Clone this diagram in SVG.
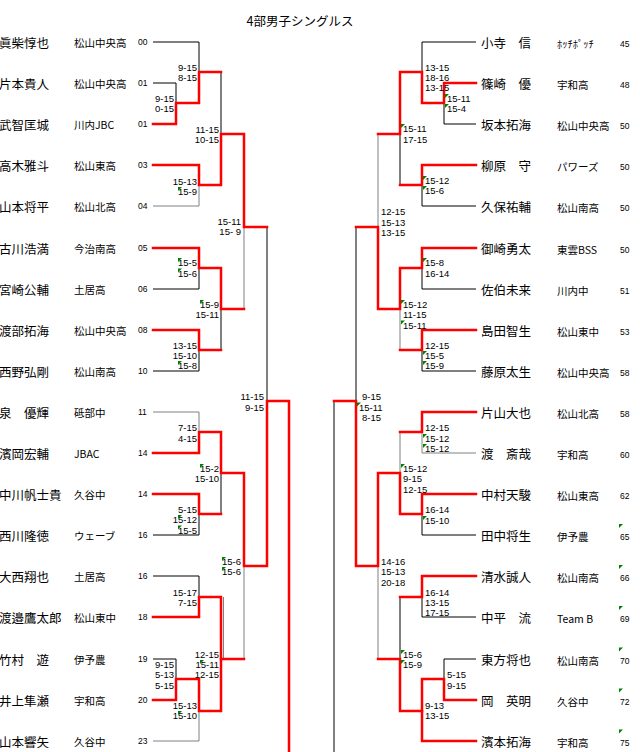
<svg xmlns="http://www.w3.org/2000/svg" width="640" height="752" viewBox="0 0 640 752">
<style>
.k{fill:none;stroke:#000;stroke-width:1}
.g{fill:none;stroke:#808080;stroke-width:1}
.r{fill:none;stroke:#ff0000;stroke-width:2.5;stroke-linejoin:miter;stroke-linecap:square}
text{fill:#000}
.ttl{font-family:"Noto Sans CJK JP",sans-serif;font-size:12.5px}
.nm{font-family:"Noto Sans CJK JP",sans-serif;font-size:12.5px}
.tm{font-family:"Noto Sans CJK JP",sans-serif;font-size:10.5px}
.no{font-family:"Liberation Sans",Arial,sans-serif;font-size:8.5px}
.sc{font-family:"Liberation Sans",Arial,sans-serif;font-size:9.5px;white-space:pre}
.e{text-anchor:end}
.fl{fill:#008000}
</style>
<defs>
<polygon id="f" points="0,0 4,0 0,4"/>
</defs>
<rect width="640" height="752" fill="#fff"/>
<text class="ttl" x="246.5" y="26">4部男子シングルス</text>

<g id="connectors">
<!-- left black -->
<path class="k" d="M153,42H199V72"/>
<path class="k" d="M153,83H176V103"/>
<path class="g" d="M153,206H199V185"/>
<path class="k" d="M221,72V134"/>
<path class="k" d="M153,289H199V268"/>
<path class="k" d="M153,371H199V350"/>
<path class="k" d="M221,309V350"/>
<path class="g" d="M244,227V309"/>
<path class="k" d="M267,227V401"/>
<path class="g" d="M153,412H199V432"/>
<path class="k" d="M153,535H199V514"/>
<path class="k" d="M221,473V514"/>
<path class="k" d="M153,576H199V597"/>
<path class="k" d="M153,659H176V679"/>
<path class="g" d="M153,741H199V711"/>
<path class="g" d="M223.5,597V659"/>
<path class="g" d="M244,566V659"/>
<!-- left red -->
<path class="r" d="M153,124H176V103H199V72H221"/>
<path class="r" d="M153,165H199V185H221V134H244V227H267"/>
<path class="r" d="M153,248H199V268H221V309H244"/>
<path class="r" d="M153,330H199V350H221"/>
<path class="r" d="M153,453H199V432H221V473H244V566H267V401H289V760"/>
<path class="r" d="M153,494H199V514H221"/>
<path class="r" d="M153,617H199V597H221V659"/>
<path class="r" d="M153,700H176V679H199V711H221V659H244"/>
<!-- right black -->
<path class="k" d="M476,42H422V72"/>
<path class="k" d="M476,124H444V103"/>
<path class="k" d="M476,206H422V185"/>
<path class="k" d="M400,134V185"/>
<path class="g" d="M378,134V227"/>
<path class="k" d="M356,227V401"/>
<path class="k" d="M476,289H422V268"/>
<path class="k" d="M476,371H422V350"/>
<path class="g" d="M400,309V350"/>
<path class="g" d="M476,453H422V432"/>
<path class="g" d="M400,432V473"/>
<path class="k" d="M476,535H422V514"/>
<path class="k" d="M476,617H422V597"/>
<path class="k" d="M400,597V659"/>
<path class="k" d="M476,659H444V679"/>
<path class="g" d="M378,566V659"/>
<path class="k" d="M334,401V752"/>
<!-- right red -->
<path class="r" d="M476,83H444V103H422V72H400V134H378"/>
<path class="r" d="M476,165H422V185H400"/>
<path class="r" d="M476,248H422V268H400V309H378V227H356"/>
<path class="r" d="M476,330H422V350H400"/>
<path class="r" d="M476,412H422V432H400"/>
<path class="r" d="M476,494H422V514H400V473H378V566H356V401H334"/>
<path class="r" d="M476,576H422V597H400"/>
<path class="r" d="M476,700H444V679H422V711"/>
<path class="r" d="M476,741H422V711H400V659H378"/>
</g>

<g id="left-players">
<g id="L00"><text class="nm" x="-1" y="47.5">眞柴惇也</text><text class="tm" x="74" y="46.5">松山中央高</text><text class="no" x="138" y="45">00</text></g>
<g id="L01"><text class="nm" x="-1" y="88.5">片本貴人</text><text class="tm" x="74" y="87.5">松山中央高</text><text class="no" x="138" y="86">01</text></g>
<g id="L02"><text class="nm" x="-1" y="129.5">武智匡城</text><text class="tm" x="74" y="128.5">川内JBC</text><text class="no" x="138" y="127">01</text></g>
<g id="L03"><text class="nm" x="-1" y="170.5">高木雅斗</text><text class="tm" x="74" y="169.5">松山東高</text><text class="no" x="138" y="168">03</text></g>
<g id="L04"><text class="nm" x="-1" y="211.5">山本将平</text><text class="tm" x="74" y="210.5">松山北高</text><text class="no" x="138" y="209">04</text></g>
<g id="L05"><text class="nm" x="-1" y="253.5">古川浩満</text><text class="tm" x="74" y="252.5">今治南高</text><text class="no" x="138" y="251">05</text></g>
<g id="L06"><text class="nm" x="-1" y="294.5">宮崎公輔</text><text class="tm" x="74" y="293.5">土居高</text><text class="no" x="138" y="292">06</text></g>
<g id="L07"><text class="nm" x="-1" y="335.5">渡部拓海</text><text class="tm" x="74" y="334.5">松山中央高</text><text class="no" x="138" y="333">08</text></g>
<g id="L08"><text class="nm" x="-1" y="376.5">西野弘剛</text><text class="tm" x="74" y="375.5">松山南高</text><text class="no" x="138" y="374">10</text></g>
<g id="L09"><text class="nm" x="-1" y="417.5">泉　優輝</text><text class="tm" x="74" y="416.5">砥部中</text><text class="no" x="138" y="415">11</text></g>
<g id="L10"><text class="nm" x="-1" y="458.5">濱岡宏輔</text><text class="tm" x="74" y="457.5">JBAC</text><text class="no" x="138" y="456">14</text></g>
<g id="L11"><text class="nm" x="-1" y="499.5">中川帆士貴</text><text class="tm" x="74" y="498.5">久谷中</text><text class="no" x="138" y="497">14</text></g>
<g id="L12"><text class="nm" x="-1" y="540.5">西川隆徳</text><text class="tm" x="74" y="539.5">ウェーブ</text><text class="no" x="138" y="538">16</text></g>
<g id="L13"><text class="nm" x="-1" y="581.5">大西翔也</text><text class="tm" x="74" y="580.5">土居高</text><text class="no" x="138" y="579">16</text></g>
<g id="L14"><text class="nm" x="-1" y="622.5">渡邉鷹太郎</text><text class="tm" x="74" y="621.5">松山東中</text><text class="no" x="138" y="620">18</text></g>
<g id="L15"><text class="nm" x="-1" y="664.5">竹村　遊</text><text class="tm" x="74" y="663.5">伊予農</text><text class="no" x="138" y="662">19</text></g>
<g id="L16"><text class="nm" x="-1" y="705.5">井上隼瀬</text><text class="tm" x="74" y="704.5">宇和高</text><text class="no" x="138" y="703">20</text></g>
<g id="L17"><text class="nm" x="-1" y="746.5">山本響矢</text><text class="tm" x="74" y="745.5">久谷中</text><text class="no" x="138" y="744">23</text></g>
</g>

<g id="right-players">
<g id="R00"><text class="nm" x="481" y="48">小寺　信</text><text class="tm" x="557" y="48">ﾎｯﾁﾎﾟｯﾁ</text><text class="no" x="620" y="47">45</text></g>
<g id="R01"><text class="nm" x="481" y="89">篠崎　優</text><text class="tm" x="557" y="89">宇和高</text><text class="no" x="620" y="88">48</text></g>
<g id="R02"><text class="nm" x="481" y="130">坂本拓海</text><text class="tm" x="557" y="130">松山中央高</text><text class="no" x="620" y="129">50</text></g>
<g id="R03"><text class="nm" x="481" y="171">柳原　守</text><text class="tm" x="557" y="171">パワーズ</text><text class="no" x="620" y="170">50</text></g>
<g id="R04"><text class="nm" x="481" y="212">久保祐輔</text><text class="tm" x="557" y="212">松山南高</text><text class="no" x="620" y="211">50</text></g>
<g id="R05"><text class="nm" x="481" y="254">御崎勇太</text><text class="tm" x="557" y="254">東雲BSS</text><text class="no" x="620" y="253">50</text></g>
<g id="R06"><text class="nm" x="481" y="295">佐伯未来</text><text class="tm" x="557" y="295">川内中</text><text class="no" x="620" y="294">51</text></g>
<g id="R07"><text class="nm" x="481" y="336">島田智生</text><text class="tm" x="557" y="336">松山東中</text><text class="no" x="620" y="335">53</text></g>
<g id="R08"><text class="nm" x="481" y="377">藤原太生</text><text class="tm" x="557" y="377">松山中央高</text><text class="no" x="620" y="376">58</text></g>
<g id="R09"><text class="nm" x="481" y="418">片山大也</text><text class="tm" x="557" y="418">松山北高</text><text class="no" x="620" y="417">58</text></g>
<g id="R10"><text class="nm" x="481" y="459">渡　斎哉</text><text class="tm" x="557" y="459">宇和高</text><text class="no" x="620" y="458">60</text></g>
<g id="R11"><text class="nm" x="481" y="500">中村天駿</text><text class="tm" x="557" y="500">松山東高</text><text class="no" x="620" y="499">62</text></g>
<g id="R12"><text class="nm" x="481" y="541">田中将生</text><text class="tm" x="557" y="541">伊予農</text><text class="no" x="620" y="540">65</text></g>
<g id="R13"><text class="nm" x="481" y="582">清水誠人</text><text class="tm" x="557" y="582">松山南高</text><text class="no" x="620" y="581">66</text></g>
<g id="R14"><text class="nm" x="481" y="623">中平　流</text><text class="tm" x="557" y="623">Team B</text><text class="no" x="620" y="622">69</text></g>
<g id="R15"><text class="nm" x="481" y="665">東方将也</text><text class="tm" x="557" y="665">松山南高</text><text class="no" x="620" y="664">70</text></g>
<g id="R16"><text class="nm" x="481" y="706">岡　英明</text><text class="tm" x="557" y="706">久谷中</text><text class="no" x="620" y="705">72</text></g>
<g id="R17"><text class="nm" x="481" y="747">濱本拓海</text><text class="tm" x="557" y="747">宇和高</text><text class="no" x="620" y="746">75</text></g>
</g>

<g id="scores-left">
<text class="sc e" x="174" y="102.4">9-15</text><text class="sc e" x="174" y="112.4">0-15</text>
<text class="sc e" x="197" y="71.4">9-15</text><text class="sc e" x="197" y="81.4">8-15</text>
<text class="sc e" x="197" y="185">15-13</text><text class="sc e" x="197" y="195.4">15-9</text>
<text class="sc e" x="219" y="133.4">11-15</text><text class="sc e" x="219" y="143.4">10-15</text>
<text class="sc e" x="197" y="266.4">15-5</text><text class="sc e" x="197" y="277">15-6</text>
<text class="sc e" x="197" y="349">13-15</text><text class="sc e" x="197" y="359">15-10</text><text class="sc e" x="197" y="369.4">15-8</text>
<text class="sc e" x="219" y="308.4">15-9</text><text class="sc e" x="219" y="318.4">15-11</text>
<text class="sc e" x="241" y="225.4">15-11</text><text class="sc e" x="241" y="235.4">15- 9</text>
<text class="sc e" x="264" y="400.4">11-15</text><text class="sc e" x="264" y="411">9-15</text>
<text class="sc e" x="197" y="431.4">7-15</text><text class="sc e" x="197" y="442">4-15</text>
<text class="sc e" x="197" y="513.4">5-15</text><text class="sc e" x="197" y="523.4">15-12</text><text class="sc e" x="197" y="534">15-5</text>
<text class="sc e" x="219" y="472.4">15-2</text><text class="sc e" x="219" y="482.4">15-10</text>
<text class="sc e" x="241" y="565.4">15-6</text><text class="sc e" x="241" y="575.4">15-6</text>
<text class="sc e" x="197" y="596.4">15-17</text><text class="sc e" x="197" y="606.4">7-15</text>
<text class="sc e" x="174" y="668.4">9-15</text><text class="sc e" x="174" y="678.4">5-13</text><text class="sc e" x="174" y="689">5-15</text>
<text class="sc e" x="197" y="709">15-13</text><text class="sc e" x="197" y="719.4">15-10</text>
<text class="sc e" x="219" y="658.4">12-15</text><text class="sc e" x="219" y="668.4">15-11</text><text class="sc e" x="219" y="678.4">12-15</text>
</g>

<g id="scores-right">
<text class="sc" x="425" y="71.4">13-15</text><text class="sc" x="425" y="81.4">18-16</text><text class="sc" x="425" y="91.4">13-15</text>
<text class="sc" x="447" y="102.4">15-11</text><text class="sc" x="447" y="112.4">15-4</text>
<text class="sc" x="425" y="184.4">15-12</text><text class="sc" x="425" y="194.4">15-6</text>
<text class="sc" x="403" y="132.4">15-11</text><text class="sc" x="403" y="143.4">17-15</text>
<text class="sc" x="381" y="215.4">12-15</text><text class="sc" x="381" y="226">15-13</text><text class="sc" x="381" y="236">13-15</text>
<text class="sc" x="425" y="266.4">15-8</text><text class="sc" x="425" y="277">16-14</text>
<text class="sc" x="425" y="349.4">12-15</text><text class="sc" x="425" y="359.4">15-5</text><text class="sc" x="425" y="369.4">15-9</text>
<text class="sc" x="403" y="308.4">15-12</text><text class="sc" x="403" y="318.4">11-15</text><text class="sc" x="403" y="329">15-11</text>
<text class="sc" x="362" y="400.4">9-15</text><text class="sc" x="359" y="411">15-11</text><text class="sc" x="362" y="421">8-15</text>
<text class="sc" x="425" y="431.4">12-15</text><text class="sc" x="425" y="442.4">15-12</text><text class="sc" x="425" y="452.4">15-12</text>
<text class="sc" x="425" y="513.4">16-14</text><text class="sc" x="425" y="524.4">15-10</text>
<text class="sc" x="403" y="472.4">15-12</text><text class="sc" x="403" y="482.4">9-15</text><text class="sc" x="403" y="493.4">12-15</text>
<text class="sc" x="381" y="565.4">14-16</text><text class="sc" x="381" y="575.4">15-13</text><text class="sc" x="381" y="586">20-18</text>
<text class="sc" x="425" y="596">16-14</text><text class="sc" x="425" y="606.4">13-15</text><text class="sc" x="425" y="616.4">17-15</text>
<text class="sc" x="447" y="678.4">5-15</text><text class="sc" x="447" y="689">9-15</text>
<text class="sc" x="425" y="709">9-13</text><text class="sc" x="425" y="719.4">13-15</text>
<text class="sc" x="403" y="658.4">15-6</text><text class="sc" x="403" y="668.4">15-9</text>
</g>

<g id="flags" class="fl">
<use href="#f" x="178" y="187"/>
<use href="#f" x="178" y="258"/><use href="#f" x="178" y="268.5"/>
<use href="#f" x="178" y="361"/>
<use href="#f" x="200" y="300"/>
<use href="#f" x="178" y="515"/><use href="#f" x="178" y="525.5"/>
<use href="#f" x="200" y="464"/>
<use href="#f" x="222" y="557"/><use href="#f" x="222" y="567"/>
<use href="#f" x="178" y="711"/>
<use href="#f" x="200" y="660"/>
<use href="#f" x="445" y="94"/><use href="#f" x="445" y="104"/>
<use href="#f" x="423" y="176"/><use href="#f" x="423" y="186"/>
<use href="#f" x="401" y="124"/>
<use href="#f" x="423" y="258"/>
<use href="#f" x="423" y="351"/><use href="#f" x="423" y="361"/>
<use href="#f" x="401" y="300"/><use href="#f" x="401" y="320.5"/>
<use href="#f" x="357" y="402.5"/>
<use href="#f" x="423" y="434"/><use href="#f" x="423" y="444"/>
<use href="#f" x="423" y="516"/>
<use href="#f" x="401" y="464"/>
<use href="#f" x="401" y="650"/><use href="#f" x="401" y="660"/>
<use href="#f" x="619" y="524"/><use href="#f" x="619" y="565"/><use href="#f" x="619" y="606"/>
<use href="#f" x="619" y="647.5"/><use href="#f" x="619" y="688.5"/><use href="#f" x="619" y="729.5"/>
</g>
</svg>
